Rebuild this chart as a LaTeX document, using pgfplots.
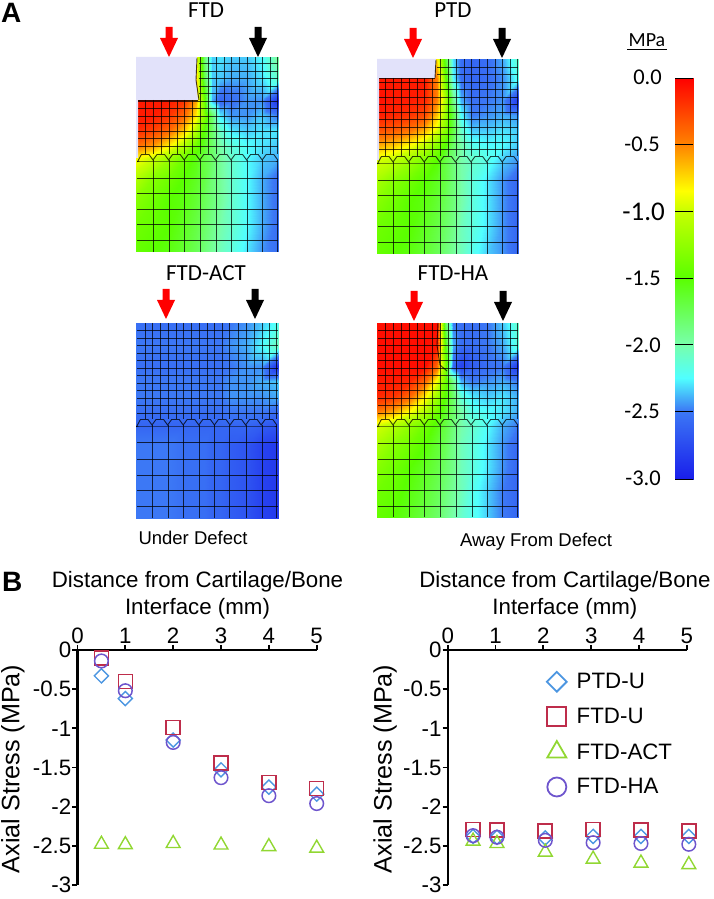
\documentclass[border=0pt]{standalone}
\usepackage{pgfplots}
\pgfplotsset{compat=1.18}
\usepackage{pgfplotstable}
\usepackage{fontspec}
\setmainfont{Liberation Sans}
\newfontfamily\carlito{Carlito}
\newcommand\fs[1]{\fontsize{#1}{#1}\selectfont}
\definecolor{lav}{RGB}{226,226,250}
\definecolor{cdia}{RGB}{76,150,225}
\definecolor{csq}{RGB}{190,45,75}
\definecolor{ctri}{RGB}{145,215,50}
\definecolor{ccir}{RGB}{110,85,205}
\pgfplotsset{colormap={fe}{rgb255(0pt)=(25,30,235); rgb255(50pt)=(60,120,245); rgb255(75pt)=(80,255,255); rgb255(100pt)=(120,255,170); rgb255(150pt)=(90,255,0); rgb255(200pt)=(200,255,0); rgb255(215pt)=(255,255,0); rgb255(250pt)=(255,130,0); rgb255(300pt)=(255,0,0)}}
\pgfplotsset{ml/.style={black,line width=.9pt,opacity=.75,forget plot,no marks}}
\newcommand\heat[3]{%
  \gdef\hbuf{}%
  \foreach \v [count=\i from 0] in {#3}{%
    \pgfmathtruncatemacro\cc{mod(\i,12)}%
    \pgfmathtruncatemacro\rr{floor(\i/12)}%
    \pgfmathparse{{#1}[\cc]}\let\xx\pgfmathresult
    \pgfmathparse{{#2}[\rr]}\let\yy\pgfmathresult
    \xdef\hbuf{\hbuf (\xx,\yy) [\v]}%
  }%
  \edef\tmp{\noexpand\addplot[surf,shader=interp,mesh/cols=12,point meta=explicit,forget plot] coordinates {\hbuf};}\tmp
}
\newcommand\Vl[3]{\pgfplotsinvokeforeach{#1}{\addplot[ml] coordinates {(##1,#2) (##1,#3)};}}
\newcommand\Hl[3]{\pgfplotsinvokeforeach{#1}{\addplot[ml] coordinates {(#2,##1) (#3,##1)};}}
\pgfplotstableread{
u v
0 0
3.5 0
3.5 11
9 11
0 30
-9 11
-3.5 11
-3.5 0
0 0
}\arrowshape
\pgfplotstableread{
u v
-15.6 2
-11.6 -5.5
-4 -5.5
0 0
4 -5.5
11.6 -5.5
15.6 0
19.6 -5.5
27.2 -5.5
31.2 0
35.2 -5.5
42.8 -5.5
46.8 0
50.8 -5.5
58.4 -5.5
62.4 0
66.4 -5.5
74 -5.5
78 0
82 -5.5
89.6 -5.5
93.6 0
97.6 -5.5
105.2 -5.5
109.2 0
113.2 -5.5
120.8 -5.5
124.8 0
}\scallop
\newcommand\Arr[3]{\addplot[fill=#3,draw=none,forget plot] table[x expr=\thisrow{u}+#1,y expr=\thisrow{v}+#2]{\arrowshape};}
\newcommand\Sc[2]{\addplot[ml] table[x expr=\thisrow{u}+#1,y expr=\thisrow{v}+#2]{\scallop};\addplot[ml] table[x expr=\thisrow{u}+#1,y expr=#2+1]{\scallop};}
\pgfplotsset{scat/.style={
  scale only axis,width=239.2pt,height=235pt,xmin=0,xmax=5,ymin=-3,ymax=0,clip=false,
  axis x line=top,axis y line=left,axis line style={-,line width=2.2pt},
  tick style={black,line width=1.8pt},major tick length=5pt,tick align=outside,
  xtick={0,1,2,3,4,5},xticklabels={0,1,2,3,4,5},
  ytick={0,-0.5,-1,-1.5,-2,-2.5,-3},yticklabels={0,-0.5,-1,-1.5,-2,-2.5,-3},
  tick label style={font=\fs{22.3}},
  xticklabel style={inner sep=1pt},yticklabel style={inner sep=1pt},
  xlabel={Distance from Cartilage/Bone\\[5pt]Interface (mm)},
  ylabel={Axial Stress (MPa)},
  xlabel style={font=\fs{22.3},align=center},
  ylabel style={font=\fs{25.2}},
}}
\pgfplotsset{
 sd/.style={only marks,mark=square,mark size=5pt,mark options={rotate=45,draw=cdia,line width=1.4pt,fill=none},
   legend image post style={mark size=7pt,mark options={rotate=45,draw=cdia,line width=1.8pt,fill=none}}},
 ss/.style={only marks,mark=square,mark size=7pt,mark options={draw=csq,line width=1.6pt,fill=none},
   legend image post style={mark size=9.5pt,mark options={draw=csq,line width=2pt,fill=none}}},
 st/.style={only marks,mark=triangle,mark size=8pt,mark options={draw=ctri,line width=1.4pt,fill=none},
   legend image post style={mark size=11pt,mark options={draw=ctri,line width=1.8pt,fill=none}}},
 sc/.style={only marks,mark=o,mark size=6.8pt,mark options={draw=ccir,line width=1.5pt,fill=none},
   legend image post style={mark size=9.5pt,mark options={draw=ccir,line width=1.8pt,fill=none}}},
}
\begin{document}
\begin{tikzpicture}[x=1pt,y=1pt]
\path[use as bounding box] (0,0) rectangle (714,899);
\begin{axis}[at={(0pt,0pt)},anchor=south west,scale only axis,width=714pt,height=899pt,
  xmin=0,xmax=714,ymin=0,ymax=899,y dir=reverse,hide axis,clip=false,
  colormap name=fe,point meta min=-3,point meta max=0]
% FTD
\heat{136,153,169,184,196,204,212,220,231,247,262,278}{57,78,100,115,130,145,158,178,200,225,252}{
-0.1,-0.1,-0.1,-0.1,-0.8,-1.8,-2.35,-2.3,-2.35,-2.35,-2.25,-1.95,
-0.1,-0.1,-0.1,-0.1,-0.7,-1.7,-2.35,-2.35,-2.4,-2.4,-2.3,-2.1,
-0.1,-0.1,-0.1,-0.2,-0.6,-1.4,-2.4,-2.6,-2.55,-2.45,-2.45,-2.9,
-0.1,-0.1,-0.2,-0.4,-0.8,-1.3,-1.8,-2.3,-2.45,-2.45,-2.35,-2.5,
-0.15,-0.25,-0.4,-0.7,-1.1,-1.5,-1.8,-2.1,-2.3,-2.35,-2.3,-2.3,
-0.4,-0.55,-0.8,-1.1,-1.4,-1.6,-1.8,-2.0,-2.15,-2.25,-2.3,-2.35,
-0.85,-1.0,-1.2,-1.4,-1.55,-1.7,-1.8,-1.95,-2.1,-2.25,-2.35,-2.4,
-1.1,-1.3,-1.4,-1.5,-1.6,-1.7,-1.85,-1.95,-2.1,-2.25,-2.4,-2.55,
-1.3,-1.4,-1.5,-1.55,-1.65,-1.75,-1.85,-1.95,-2.1,-2.25,-2.4,-2.55,
-1.4,-1.45,-1.5,-1.6,-1.7,-1.8,-1.9,-2.0,-2.1,-2.25,-2.4,-2.55,
-1.45,-1.5,-1.55,-1.65,-1.75,-1.85,-1.95,-2.05,-2.15,-2.3,-2.45,-2.55}
% PTD
\heat{377,394,410,425,437,445,453,461,472,488,503,518}{59,78,100,115,130,145,160,180,202,227,254}{
-0.1,-0.1,-0.1,-0.1,-0.8,-1.6,-2.3,-2.55,-2.6,-2.55,-2.4,-2.1,
-0.1,-0.1,-0.1,-0.1,-0.5,-1.4,-2.25,-2.55,-2.6,-2.55,-2.45,-2.2,
-0.05,-0.1,-0.1,-0.15,-0.5,-1.1,-1.9,-2.4,-2.55,-2.5,-2.45,-2.85,
-0.1,-0.15,-0.2,-0.3,-0.7,-1.2,-1.7,-2.25,-2.5,-2.45,-2.4,-2.45,
-0.3,-0.35,-0.45,-0.65,-0.95,-1.3,-1.7,-2.1,-2.35,-2.35,-2.3,-2.35,
-0.6,-0.7,-0.85,-1.05,-1.3,-1.5,-1.8,-2.0,-2.2,-2.25,-2.25,-2.35,
-0.95,-1.05,-1.2,-1.35,-1.5,-1.7,-1.85,-2.0,-2.1,-2.2,-2.35,-2.45,
-1.15,-1.3,-1.4,-1.5,-1.6,-1.7,-1.85,-2.0,-2.15,-2.3,-2.45,-2.6,
-1.3,-1.4,-1.5,-1.55,-1.65,-1.75,-1.85,-2.0,-2.15,-2.3,-2.45,-2.6,
-1.4,-1.45,-1.5,-1.6,-1.7,-1.8,-1.9,-2.05,-2.15,-2.3,-2.45,-2.6,
-1.45,-1.5,-1.55,-1.65,-1.75,-1.85,-1.95,-2.05,-2.2,-2.35,-2.45,-2.6}
% ACT
\heat{136,153,169,184,196,204,212,220,231,247,262,278}{323,345,366,381,396,411,425,445,467,492,518}{
-2.55,-2.55,-2.55,-2.55,-2.55,-2.55,-2.55,-2.55,-2.5,-2.45,-2.35,-2.2,
-2.5,-2.5,-2.5,-2.5,-2.5,-2.5,-2.5,-2.5,-2.45,-2.4,-2.25,-2.05,
-2.55,-2.55,-2.55,-2.55,-2.55,-2.55,-2.55,-2.55,-2.5,-2.45,-2.45,-2.9,
-2.5,-2.5,-2.5,-2.5,-2.5,-2.5,-2.5,-2.5,-2.45,-2.45,-2.4,-2.35,
-2.5,-2.5,-2.5,-2.5,-2.5,-2.5,-2.5,-2.5,-2.45,-2.45,-2.45,-2.4,
-2.55,-2.55,-2.55,-2.55,-2.55,-2.55,-2.55,-2.55,-2.5,-2.5,-2.5,-2.55,
-2.6,-2.6,-2.6,-2.6,-2.6,-2.6,-2.6,-2.6,-2.6,-2.6,-2.65,-2.7,
-2.5,-2.5,-2.5,-2.55,-2.55,-2.55,-2.6,-2.6,-2.65,-2.7,-2.8,-2.85,
-2.5,-2.5,-2.5,-2.55,-2.55,-2.55,-2.6,-2.6,-2.65,-2.7,-2.8,-2.85,
-2.5,-2.5,-2.5,-2.55,-2.55,-2.55,-2.6,-2.6,-2.65,-2.7,-2.8,-2.85,
-2.5,-2.5,-2.5,-2.55,-2.55,-2.55,-2.6,-2.6,-2.65,-2.7,-2.8,-2.85}
% HA
\heat{377,394,410,425,437,445,453,461,472,488,503,518}{323,345,366,381,396,411,425,445,467,492,517}{
-0.05,-0.05,-0.05,-0.05,-0.05,-1.7,-2.5,-2.55,-2.55,-2.5,-2.35,-2.1,
-0.05,-0.05,-0.05,-0.05,-0.1,-1.5,-2.4,-2.55,-2.55,-2.5,-2.4,-2.15,
-0.05,-0.05,-0.05,-0.05,-0.4,-1.3,-2.6,-2.8,-2.65,-2.55,-2.5,-2.85,
-0.1,-0.1,-0.15,-0.4,-0.9,-1.4,-1.9,-2.4,-2.5,-2.45,-2.4,-2.5,
-0.15,-0.2,-0.4,-0.8,-1.2,-1.5,-1.8,-2.15,-2.3,-2.35,-2.3,-2.4,
-0.45,-0.6,-0.85,-1.1,-1.4,-1.6,-1.8,-2.0,-2.2,-2.25,-2.3,-2.4,
-0.95,-1.1,-1.25,-1.4,-1.55,-1.7,-1.85,-2.0,-2.1,-2.25,-2.4,-2.5,
-1.15,-1.3,-1.4,-1.5,-1.65,-1.75,-1.9,-2.05,-2.15,-2.3,-2.45,-2.6,
-1.3,-1.4,-1.5,-1.6,-1.7,-1.8,-1.9,-2.05,-2.15,-2.3,-2.45,-2.6,
-1.4,-1.45,-1.55,-1.65,-1.75,-1.85,-1.95,-2.05,-2.2,-2.35,-2.5,-2.6,
-1.45,-1.5,-1.6,-1.7,-1.8,-1.9,-2.0,-2.1,-2.2,-2.35,-2.5,-2.6}
% defects
\addplot[fill=lav,draw=none,forget plot] coordinates {(136,57) (197,57) (196,80) (198,100) (138,100) (138,158) (136,158)};
\addplot[fill=lav,draw=none,forget plot] coordinates {(377,59) (436,59) (435,78) (379,78) (379,160) (377,160)};
% colour bar
\addplot[surf,shader=interp,mesh/cols=2,point meta=explicit,forget plot] coordinates {
(675,78) [0] (693,78) [0]
(675,144) [-0.5] (693,144) [-0.5]
(675,211) [-1] (693,211) [-1]
(675,278) [-1.5] (693,278) [-1.5]
(675,344) [-2] (693,344) [-2]
(675,378) [-2.25] (693,378) [-2.25]
(675,411) [-2.5] (693,411) [-2.5]
(675,479) [-3] (693,479) [-3]};
\pgfplotsinvokeforeach{78,144,211,278,344,411,479}{\addplot[black,line width=.9pt,forget plot,no marks] coordinates {(675,#1) (693,#1)};}
% meshes
\Vl{145,153,161,169,177,184,192}{100}{154}
\Vl{200,208,216,224,231,239,247,255,262,270,277}{57}{154}
\Vl{153,169,184,200,216,231,247,262,277}{160}{252}
\Hl{63,71,78,86,93}{199}{278}
\Hl{101,108,116,123,131,138,146}{138}{278}
\Hl{178,193,209,224,240}{137}{278}
\Sc{153}{160}
\addplot[ml] coordinates {(197,58) (196,80) (199,100)};
\addplot[ml] coordinates {(138,100) (198,100)};
\Vl{385,393,401,409,417,424,432}{78}{156}
\Vl{440,448,456,464,471,479,487,495,502,510,517}{59}{156}
\Vl{393,409,424,440,456,471,487,502,517}{162}{254}
\Hl{67,74}{437}{518}
\Hl{82,89,97,104,112,119,127,134,142,149}{379}{518}
\Hl{180,195,211,226,242}{378}{518}
\Sc{393}{162}
\addplot[ml] coordinates {(436,60) (435,78)};
\addplot[ml] coordinates {(379,78) (435,78)};
\Vl{145,152,160,168,176,183,191,199,207,214,222,229,238,246,254,262,269,276}{323}{419}
\Vl{152,168,183,199,214,229,246,262,276}{425}{518}
\Hl{330,338,345,353,360,368,375,383,390,398,405,413}{137}{278}
\Hl{442,459,475,490,506}{137}{278}
\Sc{152}{425}
\Vl{385,393,401,409,417,424,432,440,448,456,464,472,479,487,495,502,510,517}{323}{419}
\Vl{393,409,424,440,456,472,487,502,517}{425}{517}
\Hl{330,338,345,353,360,368,375,383,390,398,405,413}{378}{518}
\Hl{443,459,474,490,506}{378}{518}
\Sc{393}{425}
\addplot[ml] coordinates {(438,323) (437,345) (440,365) (447,371)};
% arrows
\Arr{169}{27}{red}\Arr{258}{27}{black}
\Arr{413}{28}{red}\Arr{502}{28}{black}
\Arr{166}{289}{red}\Arr{255}{289}{black}
\Arr{414}{291}{red}\Arr{503}{291}{black}
% texts
\node[font=\fs{28}\bfseries,anchor=base west,inner sep=0pt] at (1,23) {A};
\node[font=\fs{28}\bfseries,anchor=base west,inner sep=0pt] at (2,591) {B};
\node[font=\carlito\fs{23}] at (206,10) {FTD};
\node[font=\carlito\fs{23}] at (453,10) {PTD};
\node[font=\carlito\fs{23}] at (206,273) {FTD-ACT};
\node[font=\carlito\fs{23}] at (453,273) {FTD-HA};
\node[font=\fs{18.5}] at (193,538) {Under Defect};
\node[font=\fs{18.5}] at (536,542) {Away From Defect};
\node[font=\carlito\fs{20}] at (647,40) {MPa};
\addplot[black,line width=1pt,forget plot,no marks] coordinates {(627,50) (667,50)};
\node[font=\carlito\fs{22.5},anchor=east,inner sep=0pt] at (662,77) {0.0};
\node[font=\carlito\fs{22.5},anchor=east,inner sep=0pt] at (660,144) {-0.5};
\node[font=\carlito\fs{27},anchor=east,inner sep=0pt] at (665,212) {-1.0};
\node[font=\carlito\fs{22.5},anchor=east,inner sep=0pt] at (661,278) {-1.5};
\node[font=\carlito\fs{22.5},anchor=east,inner sep=0pt] at (661,345) {-2.0};
\node[font=\carlito\fs{22.5},anchor=east,inner sep=0pt] at (660,411) {-2.5};
\node[font=\carlito\fs{22.5},anchor=east,inner sep=0pt] at (661,478) {-3.0};
\end{axis}
% Panel B left
\begin{axis}[scat,at={(77.5pt,14pt)},anchor=south west,
  every axis x label/.append style={at={(axis description cs:0.5017,1)},anchor=south,yshift=27pt},
  every axis y label/.append style={at={(axis description cs:-0.27,0.494)},anchor=center}]
\addplot[sd] coordinates {(0.5,-0.33) (1,-0.62) (2,-1.15) (3,-1.53) (4,-1.75) (5,-1.84)};
\addplot[ss] coordinates {(0.5,-0.1) (1,-0.4) (2,-0.99) (3,-1.44) (4,-1.69) (5,-1.77)};
\addplot[st] coordinates {(0.5,-2.48) (1,-2.485) (2,-2.47) (3,-2.49) (4,-2.51) (5,-2.53)};
\addplot[sc] coordinates {(0.5,-0.14) (1,-0.52) (2,-1.18) (3,-1.63) (4,-1.86) (5,-1.96)};
\end{axis}
% Panel B right
\begin{axis}[scat,at={(447.7pt,14pt)},anchor=south west,
  every axis x label/.append style={at={(axis description cs:0.49,1)},anchor=south,yshift=27pt},
  every axis y label/.append style={at={(axis description cs:-0.262,0.494)},anchor=center},
  legend style={at={(axis description cs:0.414,0.91)},anchor=north west,draw=none,fill=none,font=\fs{22.3},row sep=14pt,inner sep=0pt,cells={anchor=west}},
  legend cell align=left]
\addplot[sd] coordinates {(0.53,-2.38) (1.03,-2.39) (2.04,-2.40) (3.04,-2.38) (4.04,-2.38) (5.04,-2.38)};
\addlegendentry{\hspace*{8pt}PTD-U}
\addplot[ss] coordinates {(0.53,-2.29) (1.03,-2.30) (2.04,-2.31) (3.04,-2.29) (4.04,-2.30) (5.04,-2.31)};
\addlegendentry{\hspace*{8pt}FTD-U}
\addplot[st] coordinates {(0.53,-2.44) (1.03,-2.47) (2.04,-2.58) (3.04,-2.67) (4.04,-2.72) (5.04,-2.74)};
\addlegendentry{\hspace*{8pt}FTD-ACT}
\addplot[sc] coordinates {(0.53,-2.37) (1.03,-2.39) (2.04,-2.43) (3.04,-2.46) (4.04,-2.47) (5.04,-2.48)};
\addlegendentry{\hspace*{8pt}FTD-HA}
\end{axis}
\end{tikzpicture}
\end{document}
